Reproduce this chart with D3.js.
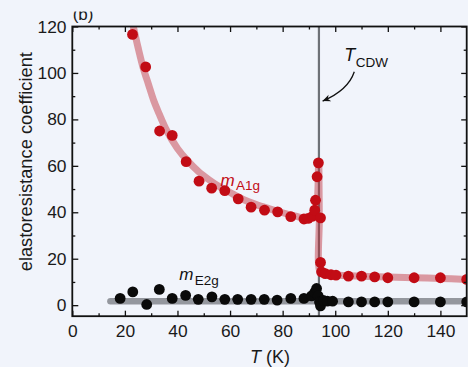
<!DOCTYPE html>
<html>
<head>
<meta charset="utf-8">
<script src="https://cdn.jsdelivr.net/npm/d3@7"></script>
<style>
  html, body { margin: 0; padding: 0; background: #f1f4fb; }
  svg { display: block; font-family: "Liberation Sans", Arial, Helvetica, sans-serif; }
</style>
</head>
<body>
<svg id="chart" width="468" height="367"></svg>
<script>
// A1g elastoresistance coefficient, measured points (T in K, value)
const a1gT = [22.9, 27.9, 33.2, 38.0, 43.3, 48.2, 53.0, 58.0, 63.1, 68.0, 73.1, 78.1, 83.1, 88.1,
              89.7, 91.4, 92.2, 92.5, 93.1, 93.6, 94.4, 94.4, 94.8, 96.2, 98.4, 100.3,
              105, 110, 115, 120, 130, 140, 150];
const a1gV = [116.6, 102.6, 75.0, 73.1, 61.8, 53.4, 50.4, 49.3, 45.8, 42.2, 40.9, 40.2, 38.1, 37.1,
              37.4, 38.3, 40.9, 45.2, 55.3, 61.3, 37.6, 18.4, 14.3, 13.6, 13.1, 12.9,
              12.5, 12.5, 12.2, 11.8, 11.8, 11.8, 11.1];

// E2g elastoresistance coefficient, measured points
const e2gT = [18.2, 23.0, 28.3, 33.1, 38.0, 43.1, 47.9, 53.1, 58.0, 62.9, 68.0, 73.0, 77.9, 83.1, 88.1,
              91.0, 92.2, 92.9, 93.5, 94.0, 94.4, 95.5, 97.0, 99.0,
              105, 110, 115, 120, 130, 140, 150];
const e2gV = [2.9, 5.7, 0.3, 6.8, 2.9, 4.2, 2.5, 3.6, 2.5, 2.5, 2.5, 2.5, 2.2, 2.9, 2.9,
              4.0, 5.5, 7.2, 4.0, 1.4, -0.3, 2.0, 1.7, 1.7,
              1.4, 1.4, 1.4, 1.4, 1.4, 1.4, 1.4];

// Guide curves drawn behind the points
const fitA1gT = [23.2, 25, 27, 29, 31, 33, 36, 40, 44, 48, 52, 56, 60, 65, 70, 75, 80, 85, 88, 90,
                 91.5, 92.6, 93.3, 93.7, 93.95, 94.3, 96, 100, 110, 120, 130, 140, 150];
const fitA1gV = [120, 111, 102, 95, 88, 82.5, 75, 67.5, 62, 57.5, 54, 51, 48.5, 45.5, 43.3, 41.5, 39.8, 38.3, 37.5, 37.5,
                 38.5, 41, 47, 62, 38, 14.2, 13.4, 13, 12.5, 12.1, 11.8, 11.5, 11.1];
const fitE2gT = [14.5, 150];
const fitE2gV = [1.7, 1.7];

// CDW transition temperature
const tCDW = 93.8;

// Axis ticks
const xMajor = [0, 20, 40, 60, 80, 100, 120, 140];
const xMinor = [10, 30, 50, 70, 90, 110, 130];
const yMajor = [0, 20, 40, 60, 80, 100, 120];
const yMinor = [10, 30, 50, 70, 90, 110];

const svg = d3.select("#chart");
const L = 72.3, R = 466.7, T = 26.5, B = 316.2;

const x = d3.scaleLinear().domain([0, 150]).range([L, R]);
const y = d3.scaleLinear().domain([-4.75, 120]).range([B, T]);

const zip = (a, b) => a.map((v, i) => [v, b[i]]);

const defs = svg.append("defs");
defs.append("clipPath").attr("id", "plot")
  .append("rect").attr("x", L).attr("y", T).attr("width", R - L).attr("height", B - T);
defs.append("clipPath").attr("id", "panel")
  .append("rect").attr("x", 0).attr("y", 11.6).attr("width", 200).attr("height", 40);
defs.append("marker")
  .attr("id", "head").attr("markerUnits", "userSpaceOnUse")
  .attr("viewBox", "-9 -5 10 10").attr("refX", 0).attr("refY", 0)
  .attr("markerWidth", 10).attr("markerHeight", 10).attr("orient", "auto")
  .append("path").attr("d", "M0,0 L-8,-3.6 L-5.5,0 L-8,3.6 Z").attr("fill", "#111");

// Panel letter
svg.append("text")
  .attr("clip-path", "url(#panel)")
  .attr("x", L + 0.4).attr("y", 20.4)
  .attr("font-size", 17).attr("fill", "#1a1a1a")
  .text("(b)");

const plot = svg.append("g").attr("clip-path", "url(#plot)");

// Transition marker line
plot.append("line")
  .attr("x1", x(tCDW)).attr("x2", x(tCDW))
  .attr("y1", T).attr("y2", B)
  .attr("stroke", "#6e7177").attr("stroke-width", 2.2);

const line = d3.line().x(d => x(d[0])).y(d => y(d[1])).curve(d3.curveCatmullRom.alpha(0.5));

plot.append("path")
  .datum(zip(fitE2gT, fitE2gV))
  .attr("d", line)
  .attr("fill", "none").attr("stroke", "rgba(20,22,28,0.42)")
  .attr("stroke-width", 6.5).attr("stroke-linecap", "round");

plot.append("path")
  .datum(zip(fitA1gT, fitA1gV))
  .attr("d", line)
  .attr("fill", "none").attr("stroke", "rgba(190,40,50,0.45)")
  .attr("stroke-width", 7).attr("stroke-linecap", "round").attr("stroke-linejoin", "round");

plot.append("g").selectAll("circle")
  .data(zip(e2gT, e2gV)).join("circle")
  .attr("cx", d => x(d[0])).attr("cy", d => y(d[1])).attr("r", 5.4)
  .attr("fill", "#0a0a0a");

plot.append("g").selectAll("circle")
  .data(zip(a1gT, a1gV)).join("circle")
  .attr("cx", d => x(d[0])).attr("cy", d => y(d[1])).attr("r", 5.4)
  .attr("fill", "#c20c15");

// Axes: inward ticks on all four sides
const tickFont = 17.4;
function styleAxis(g) {
  g.select(".domain").remove();
  g.selectAll(".tick line").attr("stroke", "#111").attr("stroke-width", 1.3);
  g.selectAll(".tick text").attr("font-size", tickFont).attr("fill", "#1a1a1a")
    .attr("font-family", "Liberation Sans, Arial, sans-serif");
}
svg.append("g").attr("transform", `translate(0,${B})`)
  .call(d3.axisBottom(x).tickValues(xMajor).tickSize(-5.5).tickPadding(8.4).tickFormat(d3.format("d")))
  .call(styleAxis);
svg.append("g").attr("transform", `translate(0,${B})`)
  .call(d3.axisBottom(x).tickValues(xMinor).tickSize(-3).tickFormat(""))
  .call(styleAxis);
svg.append("g").attr("transform", `translate(0,${T})`)
  .call(d3.axisTop(x).tickValues(xMajor).tickSize(-5.5).tickFormat(""))
  .call(styleAxis);
svg.append("g").attr("transform", `translate(0,${T})`)
  .call(d3.axisTop(x).tickValues(xMinor).tickSize(-3).tickFormat(""))
  .call(styleAxis);
svg.append("g").attr("transform", `translate(${L},0)`)
  .call(d3.axisLeft(y).tickValues(yMajor).tickSize(-6).tickPadding(5.8).tickFormat(d3.format("d")))
  .call(styleAxis);
svg.append("g").attr("transform", `translate(${L},0)`)
  .call(d3.axisLeft(y).tickValues(yMinor).tickSize(-3).tickFormat(""))
  .call(styleAxis);
svg.append("g").attr("transform", `translate(${R},0)`)
  .call(d3.axisRight(y).tickValues(yMajor).tickSize(-5.5).tickFormat(""))
  .call(styleAxis);
svg.append("g").attr("transform", `translate(${R},0)`)
  .call(d3.axisRight(y).tickValues(yMinor).tickSize(-3).tickFormat(""))
  .call(styleAxis);

// Frame
svg.append("rect")
  .attr("x", L).attr("y", T).attr("width", R - L).attr("height", B - T)
  .attr("fill", "none").attr("stroke", "#111").attr("stroke-width", 1.8);

// Axis titles
svg.append("text")
  .attr("transform", "translate(31.5,161.7) rotate(-90)")
  .attr("text-anchor", "middle").attr("font-size", 18.3).attr("fill", "#1a1a1a")
  .text("elastoresistance coefficient");

const xt = svg.append("text")
  .attr("x", 250).attr("y", 362.8)
  .attr("font-size", 18).attr("fill", "#1a1a1a");
xt.append("tspan").attr("font-style", "italic").text("T");
xt.append("tspan").text(" (K)");

// Series labels
const la = svg.append("text")
  .attr("x", x(56.4)).attr("y", y(51.5)).attr("fill", "#c20c15");
la.append("tspan").attr("font-style", "italic").attr("font-size", 17).text("m");
la.append("tspan").attr("font-size", 13.5).attr("dx", 1.2).attr("dy", 4.6).text("A1g");

const le = svg.append("text")
  .attr("x", x(40.7)).attr("y", y(10.85)).attr("fill", "#111");
le.append("tspan").attr("font-style", "italic").attr("font-size", 17).text("m");
le.append("tspan").attr("font-size", 13.5).attr("dx", 1.2).attr("dy", 4.7).text("E2g");

// Transition annotation
const lt = svg.append("text")
  .attr("x", x(103.4)).attr("y", y(105.3)).attr("fill", "#111");
lt.append("tspan").attr("font-style", "italic").attr("font-size", 18).text("T");
lt.append("tspan").attr("font-size", 13.5).attr("dx", 0.5).attr("dy", 6.5).text("CDW");

const a0 = [107.25, 100.5], ac = [104.9, 92.5], a1 = [95.2, 87.9];
svg.append("path")
  .attr("d", `M${x(a0[0])},${y(a0[1])} Q${x(ac[0])},${y(ac[1])} ${x(a1[0])},${y(a1[1])}`)
  .attr("fill", "none").attr("stroke", "#111").attr("stroke-width", 1.3)
  .attr("marker-end", "url(#head)");
</script>
</body>
</html>
